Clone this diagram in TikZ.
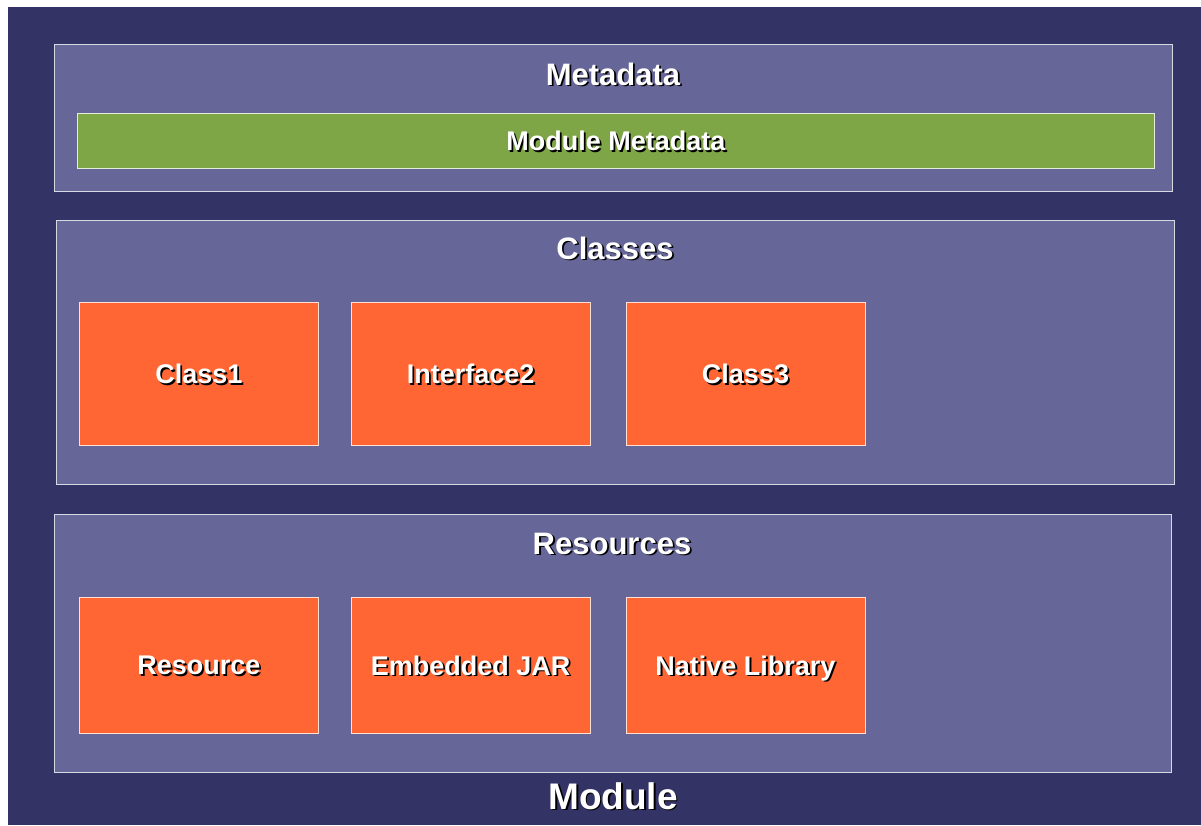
\documentclass[tikz,border=0pt]{standalone}
\usepackage{fontspec}
\setmainfont{Liberation Sans}
\usepackage{tikz}
\usetikzlibrary{positioning}
\definecolor{moduleNavy}{HTML}{333366}
\definecolor{panelBlue}{HTML}{666699}
\definecolor{partOrange}{HTML}{FF6633}
\definecolor{metaGreen}{HTML}{7FA646}
\newcommand{\shadowed}[1]{\rlap{\hspace{1.8pt}\raisebox{-1.8pt}{\color{black}#1}}#1}

\begin{document}
\begin{tikzpicture}[x=1pt,y=-1pt,node distance=32pt,
    panel/.style={draw=white!75!panelBlue,fill=panelBlue,line width=1pt,anchor=north west,
                  inner sep=0pt,minimum height=147pt},
    part/.style={draw=white!80!partOrange,fill=partOrange,line width=0.8pt,inner sep=0pt,
                 minimum width=239pt,minimum height=143pt,text=white,text depth=0pt,
                 font=\bfseries\fontsize{27}{32}\selectfont},
    title/.style={text=white,inner sep=0pt,anchor=base,font=\bfseries\fontsize{31}{36}\selectfont}]
    \useasboundingbox (0,0) rectangle (1201,825);
    \node[fill=moduleNavy,anchor=north west,inner sep=0pt,minimum width=1193pt,minimum height=818pt] (module) at (8,7) {};
    % metadata
    \node[panel,minimum width=1118pt] (metadata) at (54,44) {};
    \node[title] (metadataTitle) at (613,85) {\shadowed{Metadata}};
    \node[draw=white!80!metaGreen,fill=metaGreen,line width=0.8pt,anchor=north west,inner sep=0pt,
          minimum width=1077pt,minimum height=55pt,text=white,text depth=0pt,
          font=\bfseries\fontsize{27}{32}\selectfont] (moduleMeta) at (77,113) {\shadowed{Module Metadata}};
    % classes
    \node[panel,minimum width=1118pt,minimum height=264pt] (classes) at (56,220) {};
    \node[title] (classesTitle) at (615,259) {\shadowed{Classes}};
    \node[part,anchor=north west] (class1) at (79,302) {\shadowed{Class1}};
    \node[part,right=of class1] (interface2) {\shadowed{Interface2}};
    \node[part,right=35pt of interface2] (class3) {\shadowed{Class3}};
    % resources
    \node[panel,minimum width=1117pt,minimum height=258pt] (resources) at (54,514) {};
    \node[title] (resourcesTitle) at (612,554) {\shadowed{Resources}};
    \node[part,anchor=north west,minimum height=136pt] (resource) at (79,597) {\shadowed{Resource}};
    \node[part,minimum height=136pt,right=of resource] (embeddedJar) {\shadowed{Embedded JAR}};
    \node[part,minimum height=136pt,right=35pt of embeddedJar] (nativeLib) {\shadowed{Native Library}};
    \node[title,font=\bfseries\fontsize{37}{42}\selectfont] (moduleTitle) at (613,809) {\shadowed{Module}};
\end{tikzpicture}
\end{document}
